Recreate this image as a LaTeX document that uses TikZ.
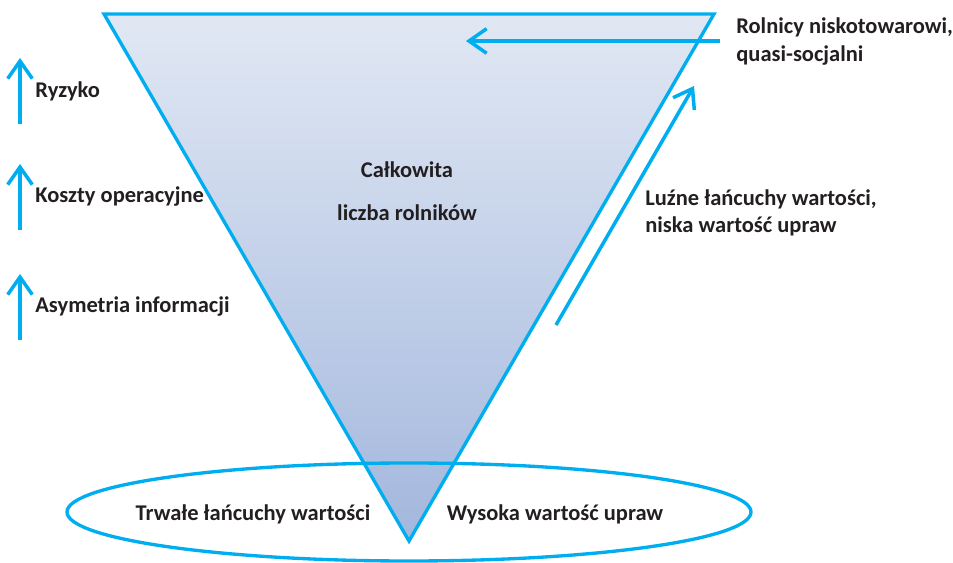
\documentclass[tikz,border=0pt]{standalone}
\usepackage{fontspec}
\setmainfont{Carlito}
\usepackage{tikz}
\usetikzlibrary{arrows.meta,positioning}

\definecolor{lineblue}{RGB}{0,174,239}
\definecolor{topfill}{RGB}{225,232,244}
\definecolor{bottomfill}{RGB}{163,183,221}
\definecolor{textgray}{RGB}{35,31,32}

\tikzset{
    label text/.style={font=\bfseries\fontsize{12.8}{15.5}\selectfont, text=textgray, inner sep=0pt, align=left},
    blue line/.style={lineblue, line width=1.9pt},
    blue arrow/.style={blue line, line width=2pt, -{Straight Barb[length=10pt,width=14pt]}},
}

\begin{document}
\begin{tikzpicture}[x=0.02cm, y=-0.02cm]
    \useasboundingbox (0,0) rectangle (953,563);

    % Inverted triangle - total number of farmers
    \coordinate (topleft) at (104,14);
    \coordinate (topright) at (714,14);
    \coordinate (apex) at (409,541);
    \shade[top color=topfill, bottom color=bottomfill] (topleft) -- (topright) -- (apex) -- cycle;
    \draw[blue line] (topleft) -- (topright) -- (apex) -- cycle;
    \node[label text, align=center, font=\bfseries\fontsize{12.8}{24.4}\selectfont] (total) at (407,191) {Całkowita\\liczba rolników};

    % Ellipse at the bottom
    \coordinate (base) at (409,512);
    \draw[blue line] (base) ellipse (342 and 49);
    \node[label text] (durable) at (253,514) {Trwałe łańcuchy wartości};
    \node[label text] (highvalue) at (555,514) {Wysoka wartość upraw};

    % Rising factors on the left
    \foreach \y/\name/\txt in {124/risk/Ryzyko, 230/cost/Koszty operacyjne, 340/info/Asymetria informacji} {
        \coordinate (\name-tail) at (20,\y);
        \coordinate (\name-tip) at (20,\y-66);
        \draw[blue arrow] (\name-tail) -- (\name-tip);
        \node[label text, anchor=west] (\name) at (35,\y-33) {\txt};
    }

    % Small-scale farmers entering from the right
    \coordinate (small-tail) at (720,41);
    \coordinate (small-tip) at (466,41);
    \draw[blue arrow] (small-tail) -- (small-tip);
    \node[label text, anchor=west] (small) at (736,41.5) {Rolnicy niskotowarowi,\\quasi-socjalni};

    % Loose value chains along the right edge
    \coordinate (loose-tail) at (556,325);
    \coordinate (loose-tip) at (694,86);
    \draw[blue arrow] (loose-tail) -- (loose-tip);
    \node[label text, anchor=west] (loose) at (645,213) {Luźne łańcuchy wartości,\\niska wartość upraw};
\end{tikzpicture}
\end{document}
